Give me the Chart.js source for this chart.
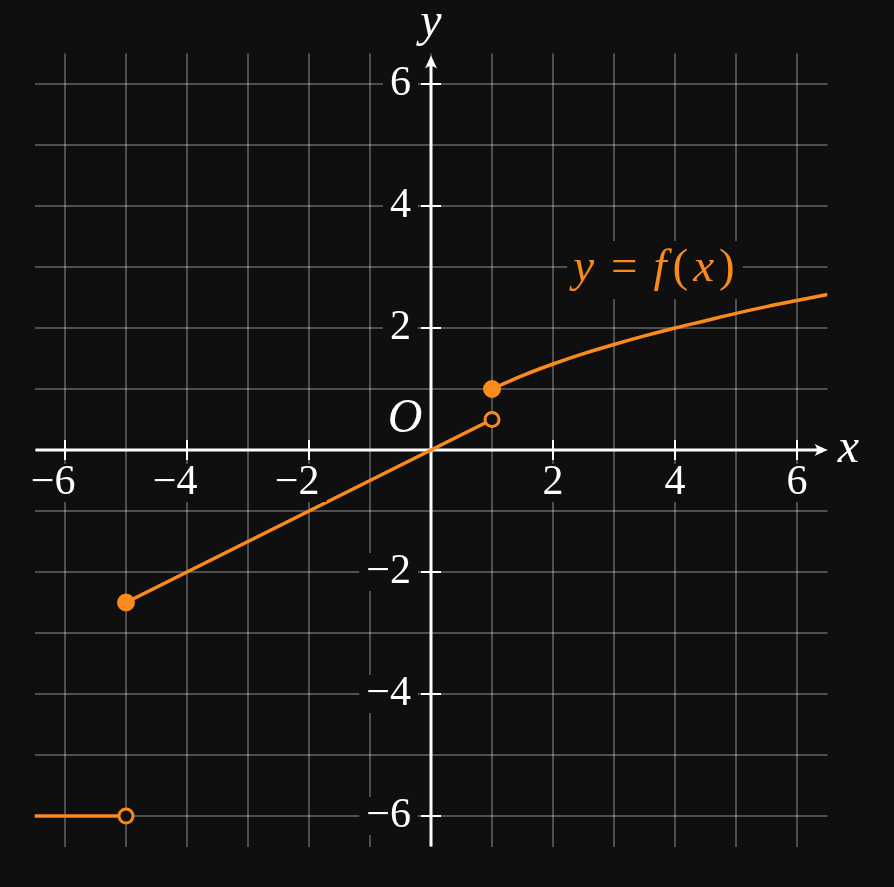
<!DOCTYPE html>
<html>
<head>
<meta charset="utf-8">
<script src="https://cdn.jsdelivr.net/npm/chart.js@4.4.1/dist/chart.umd.min.js"></script>
<style>
  html, body { margin: 0; padding: 0; background: #0f0f0f; }
  #wrap { width: 894px; height: 887px; }
  .probe { position: absolute; left: -999px; font-family: "Liberation Serif"; }
</style>
</head>
<body>
<div class="probe">6 <i>x</i></div>
<div id="wrap"><canvas id="graph"></canvas></div>
<script>
const bg = "#0f0f0f";
const orange = "#fb8a1c";

// the three pieces of f(x)
const leftX = [-6.5, -5];
const leftY = [-6, -6];
const midX = [-5, 1];
const midY = [-2.5, 0.5];
const rightX = [1, 1.5, 2, 2.5, 3, 3.5, 4, 4.5, 5, 5.5, 6, 6.5];
const rightY = [1, 1.22, 1.41, 1.58, 1.73, 1.87, 2, 2.12, 2.24, 2.35, 2.45, 2.55];

// end points (filled = included, open = excluded)
const filledX = [-5, 1];
const filledY = [-2.5, 1];
const openX = [-5, 1];
const openY = [-6, 0.5];

const xTicks = [-6, -4, -2, 2, 4, 6];
const yTicks = [-6, -4, -2, 2, 4, 6];
const gridVals = [-6, -5, -4, -3, -2, -1, 0, 1, 2, 3, 4, 5, 6];

const fam = '"Liberation Serif", "DejaVu Serif", serif';
const numFont = '42px ' + fam;
const varFont = 'italic 48px ' + fam;
const lblVar = 'italic 47px ' + fam;
const lblUp = '47px ' + fam;

function pts(xs, ys) {
  return xs.map((x, i) => ({ x: x, y: ys[i] }));
}

// label with a background box so the grid doesn't run through it
function boxText(ctx, txt, x, y, align) {
  ctx.textAlign = align;
  const w = ctx.measureText(txt).width;
  let left = x - w / 2;
  if (align === "right") left = x - w;
  if (align === "left") left = x;
  ctx.fillStyle = bg;
  ctx.fillRect(left - 7, y - 19, w + 14, 38);
  ctx.fillStyle = "#ffffff";
  ctx.fillText(txt, x, y);
}

function arrowHead(ctx, x, y, ang) {
  ctx.save();
  ctx.translate(x, y);
  ctx.rotate(ang);
  ctx.beginPath();
  ctx.moveTo(0, 0);
  ctx.lineTo(-13, -6);
  ctx.quadraticCurveTo(-8, 0, -13, 6);
  ctx.closePath();
  ctx.fillStyle = "#ffffff";
  ctx.fill();
  ctx.restore();
}

const axesPlugin = {
  id: "axes",
  beforeDatasetsDraw(chart) {
    const ctx = chart.ctx;
    const xs = chart.scales.x, ys = chart.scales.y;
    const area = chart.chartArea;
    const x0 = xs.getPixelForValue(0), y0 = ys.getPixelForValue(0);
    ctx.save();
    ctx.strokeStyle = "#ffffff";
    ctx.lineWidth = 3;
    ctx.beginPath();
    ctx.moveTo(area.left + 1, y0);
    ctx.lineTo(area.right - 6, y0);
    ctx.moveTo(x0, area.bottom);
    ctx.lineTo(x0, area.top + 8);
    ctx.stroke();
    arrowHead(ctx, area.right, y0, 0);
    arrowHead(ctx, x0, area.top + 2, -Math.PI / 2);
    ctx.lineWidth = 2;
    ctx.beginPath();
    xTicks.forEach(v => {
      const px = xs.getPixelForValue(v);
      ctx.moveTo(px, y0 - 10);
      ctx.lineTo(px, y0 + 10);
    });
    yTicks.forEach(v => {
      const py = ys.getPixelForValue(v);
      ctx.moveTo(x0 - 10, py);
      ctx.lineTo(x0 + 10, py);
    });
    ctx.stroke();
    ctx.restore();
  },
  afterDraw(chart) {
    const ctx = chart.ctx;
    const xs = chart.scales.x, ys = chart.scales.y;
    const x0 = xs.getPixelForValue(0), y0 = ys.getPixelForValue(0);
    ctx.save();
    ctx.font = numFont;
    ctx.textBaseline = "middle";
    xTicks.forEach(v => {
      const px = xs.getPixelForValue(v);
      const digits = String(Math.abs(v));
      const dw = ctx.measureText(digits).width;
      if (v < 0) {
        boxText(ctx, "\u2212" + digits, px + dw / 2, y0 + 33, "right");
      } else {
        boxText(ctx, digits, px, y0 + 33, "center");
      }
    });
    yTicks.forEach(v => {
      const py = ys.getPixelForValue(v);
      const txt = v < 0 ? "\u2212" + Math.abs(v) : String(v);
      boxText(ctx, txt, x0 - 20, py, "right");
    });

    // axis names and origin
    ctx.textBaseline = "alphabetic";
    ctx.textAlign = "center";
    ctx.fillStyle = "#ffffff";
    ctx.font = varFont;
    ctx.fillText("x", xs.getPixelForValue(6.5) + 21, y0 + 12);
    ctx.fillText("y", x0, ys.getPixelForValue(6.5) - 18);
    ctx.fillText("O", x0 - 26, y0 - 18);

    // y = f(x) label, extra gaps to get math spacing
    const parts = [["y", lblVar, 17], ["=", lblUp, 16], ["f", lblVar, 6], ["(", lblUp, 5], ["x", lblVar, 5], [")", lblUp, 0]];
    let lx = xs.getPixelForValue(2.33);
    const ly = ys.getPixelForValue(2.77);
    let total = 0;
    parts.forEach(p => { ctx.font = p[1]; total += ctx.measureText(p[0]).width + p[2]; });
    ctx.fillStyle = bg;
    ctx.fillRect(lx - 6, ly - 40, total + 14, 58);
    ctx.textAlign = "left";
    ctx.fillStyle = orange;
    parts.forEach(p => {
      ctx.font = p[1];
      ctx.fillText(p[0], lx, ly);
      lx += ctx.measureText(p[0]).width + p[2];
    });
    ctx.restore();
  }
};

const lineStyle = {
  showLine: true,
  borderColor: orange,
  borderWidth: 3.5,
  pointRadius: 0,
  fill: false
};

const gridScale = {
  type: "linear",
  min: -6.5,
  max: 6.5,
  afterBuildTicks: scale => { scale.ticks = gridVals.map(v => ({ value: v })); },
  ticks: { display: false },
  grid: { color: "rgba(255,255,255,0.27)", lineWidth: 2, drawTicks: false },
  border: { display: false }
};

function draw() {
  new Chart(document.getElementById("graph"), {
    type: "scatter",
    data: {
      datasets: [
        {
          data: pts(filledX, filledY),
          pointRadius: 7.5,
          pointBorderWidth: 3,
          pointBackgroundColor: orange,
          pointBorderColor: orange,
          showLine: false
        },
        {
          data: pts(openX, openY),
          pointRadius: 7,
          pointBorderWidth: 3,
          pointBackgroundColor: bg,
          pointBorderColor: orange,
          showLine: false
        },
        Object.assign({ data: pts(leftX, leftY) }, lineStyle),
        Object.assign({ data: pts(midX, midY) }, lineStyle),
        Object.assign({ data: pts(rightX, rightY), cubicInterpolationMode: "monotone" }, lineStyle)
      ]
    },
    options: {
      responsive: true,
      maintainAspectRatio: false,
      animation: false,
      layout: { padding: { left: 34.5, right: 66.5, top: 53.5, bottom: 40.5 } },
      plugins: { legend: { display: false }, tooltip: { enabled: false } },
      scales: {
        x: Object.assign({}, gridScale),
        y: Object.assign({}, gridScale)
      }
    },
    plugins: [axesPlugin]
  });
}

Promise.all([
  document.fonts.load(numFont),
  document.fonts.load(varFont)
]).then(draw, draw);
</script>
</body>
</html>
